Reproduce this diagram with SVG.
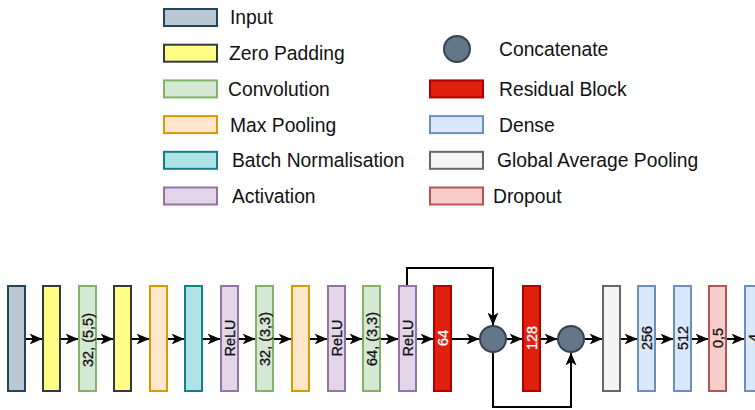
<svg xmlns="http://www.w3.org/2000/svg" width="755" height="410" viewBox="0 0 755 410">
  <style>
    text { font-family: "Liberation Sans", Arial, Helvetica, sans-serif; fill: #111111; }
    .legend { font-size: 19.3px; }
    .lbl { font-size: 14.5px; text-anchor: middle; dominant-baseline: central; stroke: #111111; stroke-width: 0.3; }
    .lbl.w { fill: #ffffff; stroke: #ffffff; }
    rect, circle { stroke-width: 2; }
    .input { fill: #bac8d3; stroke: #23445d; }
    .zpad { fill: #ffff88; stroke: #36393d; }
    .conv { fill: #d5e8d4; stroke: #82b366; }
    .pool { fill: #ffe6cc; stroke: #d79b00; }
    .bn { fill: #b0e3e6; stroke: #0e8088; }
    .act { fill: #e1d5e7; stroke: #9673a6; }
    .cat { fill: #647687; stroke: #314354; }
    .res { fill: #e0200f; stroke: #b20000; }
    .dense { fill: #dae8fc; stroke: #6c8ebf; }
    .gap { fill: #f5f5f5; stroke: #666666; }
    .drop { fill: #f8cecc; stroke: #b85450; }
    .edge { fill: none; stroke: #000000; stroke-width: 2; marker-end: url(#arrow); }
  </style>
  <defs>
    <marker id="arrow" markerUnits="userSpaceOnUse" viewBox="0 0 13 12" refX="12.5" refY="6" markerWidth="13" markerHeight="12" orient="auto">
      <path d="M0,0.5 L13,6 L0,11.5 L3.5,6 Z" fill="#000000"/>
    </marker>
  </defs>

  <!-- legend -->
  <g id="legend">
    <g id="legend-input"><rect class="input" x="164" y="9" width="53" height="17"/><text class="legend" x="230" y="24.4">Input</text></g>
    <g id="legend-zpad"><rect class="zpad" x="164" y="44.7" width="53" height="17"/><text class="legend" x="229" y="60.1">Zero Padding</text></g>
    <g id="legend-conv"><rect class="conv" x="164" y="80.4" width="53" height="17"/><text class="legend" x="228" y="95.8">Convolution</text></g>
    <g id="legend-pool"><rect class="pool" x="164" y="116.1" width="53" height="17"/><text class="legend" x="230" y="131.5">Max Pooling</text></g>
    <g id="legend-bn"><rect class="bn" x="164" y="151.8" width="53" height="17"/><text class="legend" x="232" y="167.2">Batch Normalisation</text></g>
    <g id="legend-act"><rect class="act" x="164" y="187.5" width="53" height="17"/><text class="legend" x="232" y="202.9">Activation</text></g>

    <g id="legend-cat"><circle class="cat" cx="457" cy="49" r="13"/><text class="legend" x="499" y="55.9">Concatenate</text></g>
    <g id="legend-res"><rect class="res" x="430" y="80.4" width="53" height="17"/><text class="legend" x="499" y="95.8">Residual Block</text></g>
    <g id="legend-dense"><rect class="dense" x="430" y="116.1" width="53" height="17"/><text class="legend" x="499" y="131.5">Dense</text></g>
    <g id="legend-gap"><rect class="gap" x="430" y="151.8" width="53" height="17"/><text class="legend" x="497" y="167.2">Global Average Pooling</text></g>
    <g id="legend-drop"><rect class="drop" x="430" y="187.5" width="53" height="17"/><text class="legend" x="493" y="202.9">Dropout</text></g>
  </g>

  <!-- connectors -->
  <g id="connectors">
    <path class="edge" d="M26,339 H42"/>
    <path class="edge" d="M61,339 H78"/>
    <path class="edge" d="M97,339 H113"/>
    <path class="edge" d="M132,339 H149"/>
    <path class="edge" d="M168,339 H184"/>
    <path class="edge" d="M203,339 H220"/>
    <path class="edge" d="M239,339 H255"/>
    <path class="edge" d="M274,339 H291"/>
    <path class="edge" d="M310,339 H327"/>
    <path class="edge" d="M346,339 H362"/>
    <path class="edge" d="M381,339 H398"/>
    <path class="edge" d="M417,339 H433"/>
    <path class="edge" d="M452,339 H479"/>
    <path class="edge" d="M507,339 H522"/>
    <path class="edge" d="M541,339 H557"/>
    <path class="edge" d="M585,339 H602"/>
    <path class="edge" d="M621,339 H637"/>
    <path class="edge" d="M656,339 H673"/>
    <path class="edge" d="M692,339 H708"/>
    <path class="edge" d="M727,339 H744"/>
    <!-- skip connections -->
    <path class="edge" d="M407,285 V268 H493 V325"/>
    <path class="edge" d="M493,353 V407 H571 V353"/>
  </g>

  <!-- layers -->
  <g id="n-input"><rect class="input" x="8" y="286" width="17" height="105"/></g>
  <g id="n-zpad1"><rect class="zpad" x="43" y="286" width="17" height="105"/></g>
  <g id="n-conv1"><rect class="conv" x="79" y="286" width="17" height="105"/><text class="lbl" transform="translate(87.5 340) rotate(-90)">32, (5,5)</text></g>
  <g id="n-zpad2"><rect class="zpad" x="114" y="286" width="17" height="105"/></g>
  <g id="n-pool1"><rect class="pool" x="150" y="286" width="17" height="105"/></g>
  <g id="n-bn"><rect class="bn" x="185" y="286" width="17" height="105"/></g>
  <g id="n-act1"><rect class="act" x="221" y="286" width="17" height="105"/><text class="lbl" transform="translate(229.5 338) rotate(-90)">ReLU</text></g>
  <g id="n-conv2"><rect class="conv" x="256" y="286" width="17" height="105"/><text class="lbl" transform="translate(264.5 339) rotate(-90)">32, (3,3)</text></g>
  <g id="n-pool2"><rect class="pool" x="292" y="286" width="17" height="105"/></g>
  <g id="n-act2"><rect class="act" x="328" y="286" width="17" height="105"/><text class="lbl" transform="translate(336.5 338) rotate(-90)">ReLU</text></g>
  <g id="n-conv3"><rect class="conv" x="363" y="286" width="17" height="105"/><text class="lbl" transform="translate(371.5 339) rotate(-90)">64, (3,3)</text></g>
  <g id="n-act3"><rect class="act" x="399" y="286" width="17" height="105"/><text class="lbl" transform="translate(407.5 338) rotate(-90)">ReLU</text></g>
  <g id="n-res1"><rect class="res" x="434" y="286" width="17" height="105"/><text class="lbl w" transform="translate(442.5 338) rotate(-90)">64</text></g>
  <g id="n-cat1"><circle class="cat" cx="493" cy="339" r="13"/></g>
  <g id="n-res2"><rect class="res" x="523" y="286" width="17" height="105"/><text class="lbl w" transform="translate(531.5 338) rotate(-90)">128</text></g>
  <g id="n-cat2"><circle class="cat" cx="571" cy="339" r="13"/></g>
  <g id="n-gap"><rect class="gap" x="603" y="286" width="17" height="105"/></g>
  <g id="n-dense1"><rect class="dense" x="638" y="286" width="17" height="105"/><text class="lbl" transform="translate(646.5 338) rotate(-90)">256</text></g>
  <g id="n-dense2"><rect class="dense" x="674" y="286" width="17" height="105"/><text class="lbl" transform="translate(682.5 338) rotate(-90)">512</text></g>
  <g id="n-drop"><rect class="drop" x="709" y="286" width="17" height="105"/><text class="lbl" transform="translate(717.5 338) rotate(-90)">0,5</text></g>
  <g id="n-dense3"><rect class="dense" x="745" y="286" width="17" height="105"/><text class="lbl" transform="translate(753.5 338) rotate(-90)">4</text></g>
</svg>
